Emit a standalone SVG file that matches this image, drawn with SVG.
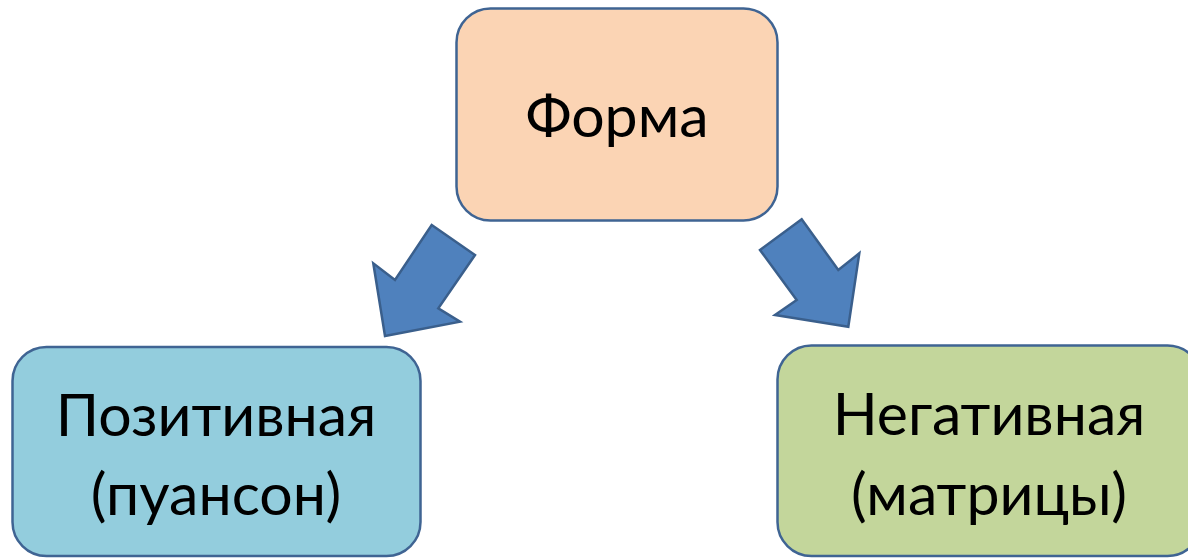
<svg xmlns="http://www.w3.org/2000/svg" width="1188" height="558" viewBox="0 0 1188 558">
  <style>
    .box { stroke: #3F6493; stroke-width: 2.5; }
    .label { font-family: Lato, "Open Sans", "Noto Sans", sans-serif; font-size: 59px; fill: #000; text-anchor: middle; }
    .arrow { fill: #4F81BD; stroke: #3A5F8C; stroke-width: 2.5; stroke-linejoin: miter; }
  </style>
  <rect width="1188" height="558" fill="#FFFFFF"/>

  <g id="connectors">
    <polygon class="arrow" points="431.7,225 475,255 438.3,308.3 460,321.7 385,336 373.3,263.3 395,280"/>
    <polygon class="arrow" points="801.7,219.3 760,250 796.7,300 775,315 848.3,326.7 859.3,253.3 838.3,270"/>
  </g>

  <g id="node-forma">
    <rect class="box" x="456.5" y="8.5" width="321" height="212" rx="34" fill="#FBD4B4"/>
    <text class="label" x="617" y="137">Форма</text>
  </g>

  <g id="node-positive">
    <rect class="box" x="12.5" y="347" width="408" height="209" rx="34" fill="#93CDDD"/>
    <text class="label" x="216" y="436">Позитивная</text>
    <text class="label" x="216" y="515">(пуансон)</text>
  </g>

  <g id="node-negative">
    <rect class="box" x="777.5" y="345.5" width="424" height="210.5" rx="34" fill="#C3D69B"/>
    <text class="label" x="989" y="435">Негативная</text>
    <text class="label" x="989" y="515">(матрицы)</text>
  </g>
</svg>
